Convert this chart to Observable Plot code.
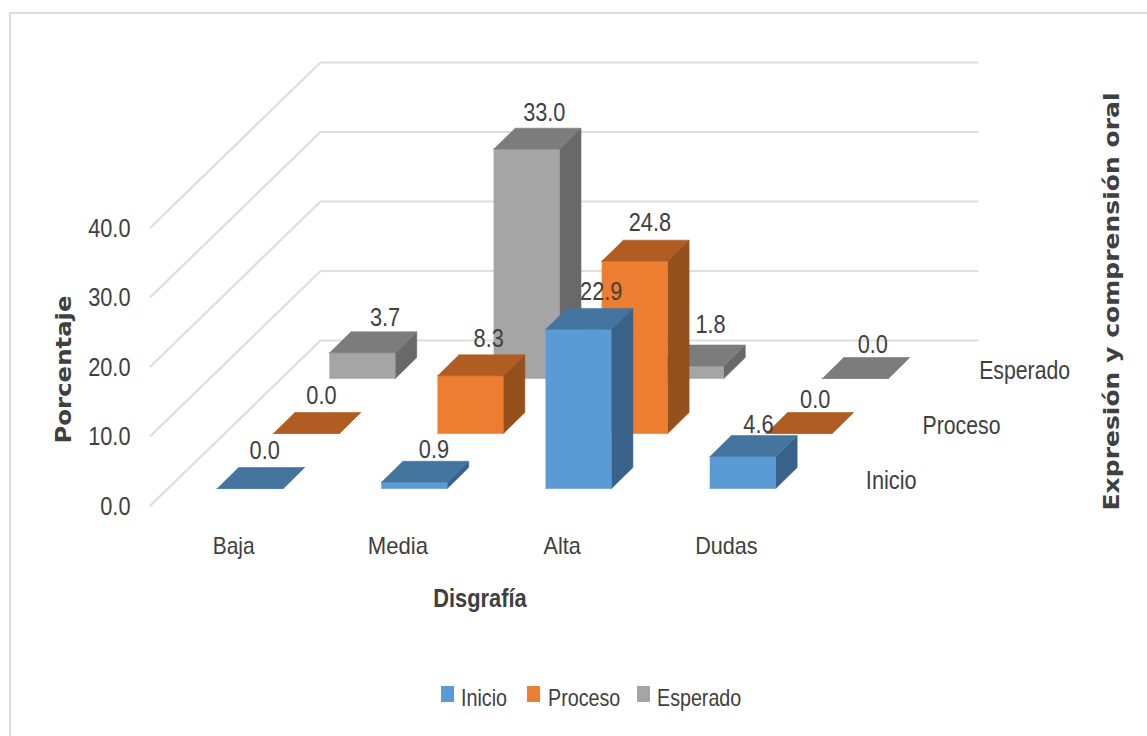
<!DOCTYPE html>
<html lang="es">
<head>
<meta charset="utf-8">
<script src="https://cdn.jsdelivr.net/npm/d3@7"></script>
<script src="https://cdn.jsdelivr.net/npm/@observablehq/plot@0.6"></script>
<style>
  html, body { margin: 0; padding: 0; background: #fff; overflow: hidden; }
  #chart { position: relative; width: 1147px; height: 736px; }
  #frame { position: absolute; left: 9px; top: 12px; right: -4px; bottom: -4px;
           border: 2px solid #dcdcdc; }
  #plot { position: absolute; left: 0; top: 0; }
  #legend { position: absolute; left: 0; top: 682px; width: 100%; height: 32px;
            font: 24px "Liberation Sans", sans-serif; color: #404040; }
  #legend span { position: absolute; top: 3px; line-height: 26px; white-space: nowrap;
                 transform: scaleX(0.82); transform-origin: left center; }
  #legend i { position: absolute; top: 4px; width: 13px; height: 16px; }
</style>
</head>
<body>
<div id="chart">
  <div id="frame"></div>
  <div id="plot"></div>
  <div id="legend"></div>
</div>
<script>
// Percentages per dysgraphia level, one list per oral-expression series.
const categories = ["Baja", "Media", "Alta", "Dudas"];
const seriesNames = ["Inicio", "Proceso", "Esperado"];
const inicio = [0.0, 0.9, 22.9, 4.6];
const proceso = [0.0, 8.3, 24.8, 0.0];
const esperado = [3.7, 33.0, 1.8, 0.0];
const valueTicks = [0, 10, 20, 30, 40];

const seriesValues = [inicio, proceso, esperado];
const fronts = ["#5b9bd5", "#ed7d31", "#a5a5a5"];
const tops = ["#44759f", "#b05c22", "#7c7c7c"];
const sides = ["#38628a", "#94501d", "#696969"];

// Hand placement of the value labels, in pixels, per series and category.
const labelNudges = [
  [[-7, -2], [-2, 4], [1, -1], [-6, 4]],
  [[-7, -2], [-4, -1], [-7, -2], [-6, 2]],
  [[0, 1], [-5, 0], [-3, -5], [-5, 2]]
];

// Oblique projection: each depth slot shifts a point right (in category units)
// and up (in percentage units). Bars step a little less than the walls.
const shiftX = 0.345;
const barShiftX = 0.342;
const shiftY = 7.914;
const px = (c, d) => c + d * shiftX;
const barX = (c, d) => c + d * barShiftX;
const py = (v, d) => v + d * shiftY;

// Pixel sizes of one category and one percentage point on the scales below.
const categoryPx = 164.25;
const percentPx = 6.95;

// Footprint of a bar inside its category and depth slot.
const gapC = 0.299;
const gapD = 0.31;

const faces = [];
const addFace = (key, color, corners) => {
  for (const [c, v, d] of corners) faces.push({key, color, x: barX(c, d), y: py(v, d)});
};
const labels = [];

// Back series first so the nearer bars cover the farther ones.
for (let s = seriesValues.length - 1; s >= 0; --s) {
  seriesValues[s].forEach((v, i) => {
    const c0 = i + gapC, c1 = i + 1 - gapC;
    const d0 = s + gapD, d1 = s + 1 - gapD;
    const id = `${s}-${i}`;
    addFace(`${id}-front`, fronts[s], [[c0, 0, d0], [c1, 0, d0], [c1, v, d0], [c0, v, d0]]);
    addFace(`${id}-side`, sides[s], [[c1, 0, d0], [c1, 0, d1], [c1, v, d1], [c1, v, d0]]);
    addFace(`${id}-top`, tops[s], [[c0, v, d0], [c1, v, d0], [c1, v, d1], [c0, v, d1]]);
    const [nx, ny] = labelNudges[s][i];
    labels.push({
      x: px(i + 0.5, d1) + nx / categoryPx,
      y: py(v, d1) - ny / percentPx,
      text: v.toFixed(1)
    });
  });
}

// Side wall and back wall lines for every percentage tick.
const grid = valueTicks.flatMap((v) => [
  {tick: v, x: px(0, 0), y: py(v, 0)},
  {tick: v, x: px(0, 3), y: py(v, 3)},
  {tick: v, x: px(4, 3), y: py(v, 3)}
]);

const bodyFont = "Liberation Sans, sans-serif";
const ink = "#404040";

const chart = Plot.plot({
  width: 1147,
  height: 736,
  margin: 0,
  style: {background: "transparent", overflow: "visible"},
  x: {domain: [0, 4], range: [150, 807], axis: null},
  y: {domain: [0, 40], range: [505, 227], axis: null},
  marks: [
    Plot.line(grid, {x: "x", y: "y", z: "tick", stroke: "#dedede", strokeWidth: 2.2}),
    Plot.line(faces, {x: "x", y: "y", z: "key", fill: "color", stroke: "color", strokeWidth: 0.6}),
    Plot.text(labels, {x: "x", y: "y", text: "text", dy: -7, lineAnchor: "bottom",
      fontFamily: bodyFont, fontSize: 25, fill: ink}),
    Plot.text(valueTicks, {x: () => 0, y: (d) => d, text: (d) => d.toFixed(1), dx: -20, dy: 1,
      textAnchor: "end", fontFamily: bodyFont, fontSize: 25, fill: ink}),
    Plot.text(categories, {x: (d, i) => i + 0.5, y: () => 0, text: (d) => d, dx: 1, dy: 41,
      fontFamily: bodyFont, fontSize: 24, fill: ink}),
    Plot.text(seriesNames, {x: (d, i) => px(4, i + 0.5), y: (d, i) => py(0, i + 0.5), text: (d) => d,
      dx: 30, dy: 3, textAnchor: "start", fontFamily: bodyFont, fontSize: 25, fill: ink}),
    Plot.text(["Disgrafía"], {x: () => 2, y: () => 0, text: (d) => d, dx: 1, dy: 93,
      fontFamily: bodyFont, fontWeight: "bold", fontSize: 26, fill: ink}),
    Plot.text(["Porcentaje"], {frameAnchor: "top-left", dx: 64, dy: 369, text: (d) => d, rotate: -90,
      textAnchor: "middle", lineAnchor: "middle",
      fontFamily: "DejaVu Sans", fontWeight: "bold", fontSize: 21, fill: ink}),
    Plot.text(["Expresión y comprensión oral"], {frameAnchor: "top-left", dx: 1112, dy: 301, text: (d) => d, rotate: -90,
      textAnchor: "middle", lineAnchor: "middle",
      fontFamily: "DejaVu Sans", fontWeight: "bold", fontSize: 21, fill: ink})
  ]
});
document.getElementById("plot").append(chart);

// The chart's lettering is condensed; fit each string to its measured run.
const fixedLengths = {"Porcentaje": 148, "Expresión y comprensión oral": 418};
const narrowing = {"Disgrafía": 0.84, "Media": 0.92, "Alta": 0.9, "Dudas": 0.9, "Esperado": 0.85, "Proceso": 0.85};
for (const node of chart.querySelectorAll("text")) {
  const content = node.textContent;
  const natural = node.getComputedTextLength();
  const length = fixedLengths[content] ?? natural * (narrowing[content] ?? 0.87);
  node.setAttribute("textLength", length);
  node.setAttribute("lengthAdjust", "spacingAndGlyphs");
}

// Series key under the chart.
const keySlots = [[441, 461], [527, 548], [637, 657]];
const legend = document.getElementById("legend");
seriesNames.forEach((name, s) => {
  const swatch = document.createElement("i");
  swatch.style.left = keySlots[s][0] + "px";
  swatch.style.background = fronts[s];
  const text = document.createElement("span");
  text.style.left = keySlots[s][1] + "px";
  text.textContent = name;
  legend.append(swatch, text);
});
</script>
</body>
</html>
